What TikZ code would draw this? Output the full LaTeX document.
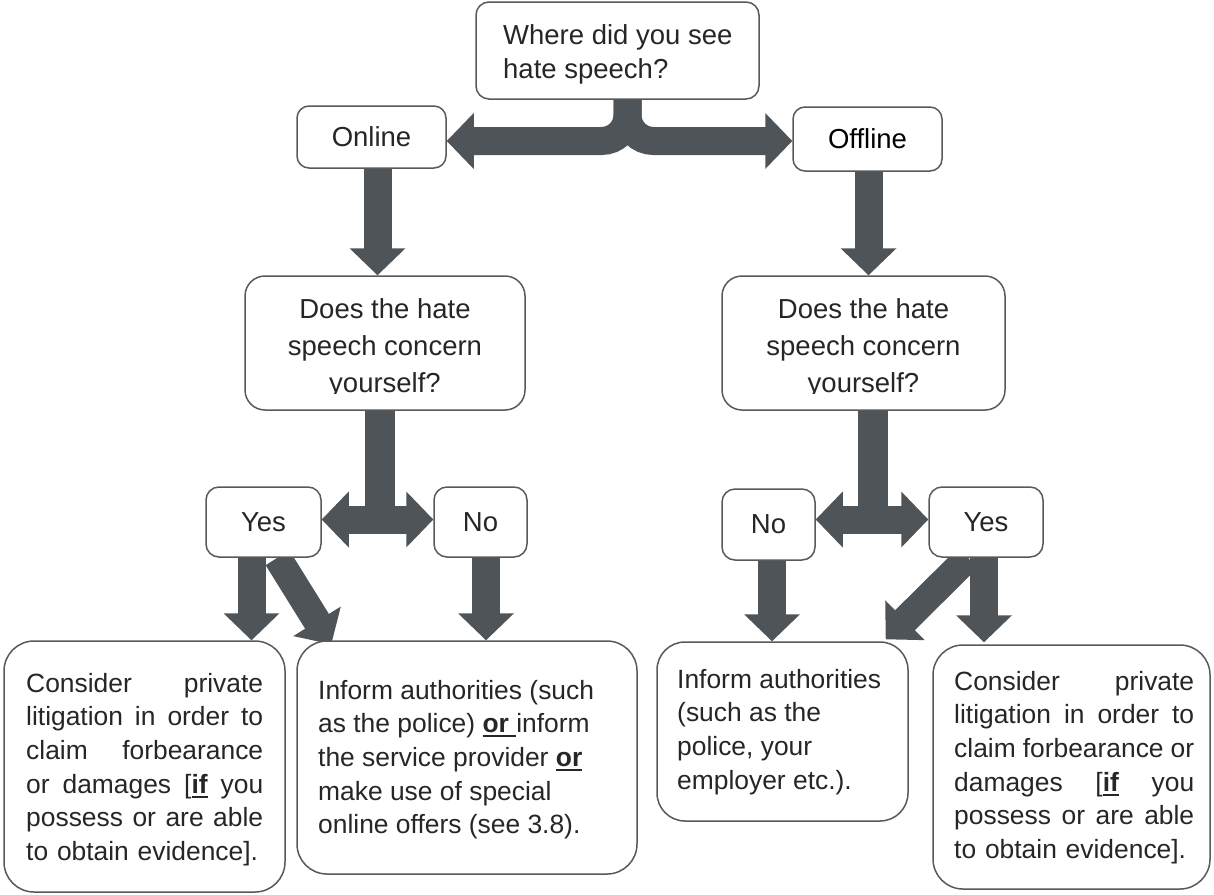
\documentclass[tikz,border=0pt]{standalone}
\usepackage{fontspec}
\setmainfont{Liberation Sans}
\usetikzlibrary{calc}
\definecolor{arrowcol}{RGB}{79,84,89}
\definecolor{boxline}{RGB}{89,89,89}
\definecolor{txt}{RGB}{38,38,38}
\pgfdeclarelayer{bg}
\pgfsetlayers{bg,main}
\newcommand{\myul}[1]{\setbox0=\hbox{#1}\rlap{\rule[-4.5pt]{\wd0}{2pt}}\box0\relax}
\newcommand{\ahead}[2]{\fill[arrowcol] (#1) -- ($(#1)!27pt!(#2)!28pt!90:(#1)$) -- ($(#1)!27pt!(#2)!28pt!-90:(#1)$) -- cycle;}
\newcommand{\barrow}[2]{\draw[shaft] (#1) -- ($(#2)!26pt!(#1)$); \ahead{#2}{#1}}
\begin{document}
\begin{tikzpicture}[x=1pt,y=-1pt,
  rbox/.style={draw=boxline, line width=1.5pt, fill=white, inner sep=0pt},
  shaft/.style={draw=arrowcol, line width=28pt},
  midtext/.style={font=\fontsize{27.5}{37}\selectfont, text=txt},
  smalltext/.style={font=\fontsize{26.4}{33.6}\selectfont, text=txt, anchor=north west, inner sep=0pt, align=left},
]
\useasboundingbox (0,0) rectangle (1214,894);

% boxes
\node[rbox, rounded corners=13pt, minimum width=283pt, minimum height=97pt] (top) at (617.5,50.5) {};
\node[rbox, rounded corners=12pt, minimum width=149pt, minimum height=62pt, midtext] (online) at (371.5,137) {Online};
\node[rbox, rounded corners=12pt, minimum width=149pt, minimum height=64pt, midtext, text=black] (offline) at (867.5,139) {Offline};
\node[rbox, rounded corners=20pt, minimum width=280pt, minimum height=134pt] (q1) at (385,343) {};
\node[rbox, rounded corners=20pt, minimum width=283pt, minimum height=134pt] (q2) at (863.5,343) {};
\node[rbox, rounded corners=13pt, minimum width=115pt, minimum height=70pt, midtext] (yes1) at (263.5,522) {Yes};
\node[rbox, rounded corners=13pt, minimum width=93pt, minimum height=70pt, midtext] (no1) at (480.5,522) {No};
\node[rbox, rounded corners=13pt, minimum width=93pt, minimum height=71pt, midtext] (no2) at (768.5,524.5) {No};
\node[rbox, rounded corners=13pt, minimum width=114pt, minimum height=70pt, midtext] (yes2) at (986,522) {Yes};
\node[rbox, rounded corners=30pt, minimum width=281pt, minimum height=251pt] (b1) at (144.5,766.5) {};
\node[rbox, rounded corners=30pt, minimum width=340pt, minimum height=233pt] (b2) at (467,757.5) {};
\node[rbox, rounded corners=28pt, minimum width=251pt, minimum height=179pt] (b3) at (782.5,731.5) {};
\node[rbox, rounded corners=30pt, minimum width=277pt, minimum height=244pt] (b4) at (1071.5,767) {};

% texts
\node[midtext, font=\fontsize{27.5}{34}\selectfont, anchor=north west, inner sep=0pt, align=left] (topt) at (503,20.2) {\strut Where did you see\\hate speech?};
\begin{scope}
  \clip (240,270) rectangle (530,393);
  \node[midtext, anchor=north, inner sep=0pt, align=center] (q1t) at (385,292.1) {\strut Does the hate\\speech concern\\yourself?};
\end{scope}
\begin{scope}
  \clip (715,270) rectangle (1010,393);
  \node[midtext, anchor=north, inner sep=0pt, align=center] (q2t) at (863.5,292.1) {\strut Does the hate\\speech concern\\yourself?};
\end{scope}
\node[smalltext, text width=237pt] (b1t) at (26,668.5) {\strut\makebox[237pt]{Consider\hfill private}\\\makebox[237pt]{litigation\hfill in\hfill order\hfill to}\\\makebox[237pt]{claim\hfill forbearance}\\\makebox[237pt]{or\hfill damages\hfill [\myul{\textbf{if}}\hfill you}\\\makebox[237pt]{possess\hfill or\hfill are\hfill able}\\to obtain evidence].};
\node[smalltext] (b2t) at (318,675.5) {\strut Inform authorities (such\\as the police) \myul{\textbf{or}\ }inform\\the service provider \myul{\textbf{or}}\\make use of special\\online offers (see 3.8).};
\node[smalltext] (b3t) at (677,664.5) {\strut Inform authorities\\(such as the\\police, your\\employer etc.).};
\node[smalltext, text width=240pt] (b4t) at (954,666.5) {\strut\makebox[240pt]{Consider\hfill private}\\\makebox[240pt]{litigation\hfill in\hfill order\hfill to}\\\makebox[240pt]{claim\hfill forbearance\hfill or}\\\makebox[240pt]{damages\hfill [\myul{\textbf{if}}\hfill you}\\\makebox[240pt]{possess\hfill or\hfill are\hfill able}\\to obtain evidence].};

% connectors
\begin{pgfonlayer}{bg}
  % split arrow
  \coordinate (s0) at ([xshift=10pt]top.south);
  \coordinate (tl) at ([yshift=-4pt]online.east);
  \coordinate (tr) at ([yshift=-2pt]offline.west);
  \coordinate (tlb) at ($(tl)+(26,0)$);
  \coordinate (trb) at ($(tr)+(-26,0)$);
  \draw[shaft, rounded corners=26pt] (s0) |- ($(tl)+(25,0)$);
  \draw[shaft, rounded corners=26pt] (s0) |- ($(tr)+(-25,0)$);
  \ahead{tl}{tlb}
  \ahead{tr}{trb}
  % online / offline down
  \coordinate (o1) at ([xshift=6pt]online.south);
  \coordinate (o1e) at (o1 |- q1.north);
  \barrow{o1}{o1e}
  \coordinate (o2) at ([xshift=1pt]offline.south);
  \coordinate (o2e) at (o2 |- q2.north);
  \barrow{o2}{o2e}
  % left T
  \coordinate (j1) at ([xshift=-5.5pt]q1.south);
  \coordinate (j1b) at ($(j1)+(0,123.5)$);
  \draw[arrowcol, line width=30pt] (j1) -- (j1b);
  \coordinate (y1t) at ([yshift=2.5pt]yes1.east);
  \coordinate (n1t) at ([yshift=2.5pt]no1.west);
  \coordinate (j1m) at (j1 |- y1t);
  \barrow{j1m}{y1t}
  \barrow{j1m}{n1t}
  % right T
  \coordinate (j2) at ([xshift=9.5pt]q2.south);
  \coordinate (j2b) at ($(j2)+(0,123.5)$);
  \draw[arrowcol, line width=30pt] (j2) -- (j2b);
  \coordinate (n2t) at ([yshift=5pt]no2.east);
  \coordinate (y2t) at ([yshift=2.5pt]yes2.west);
  \coordinate (j2m) at (j2 |- y2t);
  \barrow{j2m}{n2t}
  \barrow{j2m}{y2t}
  % down to result boxes
  \coordinate (y1a) at ([xshift=-12pt]yes1.south);
  \coordinate (y1ae) at (y1a |- b1.north);
  \barrow{y1a}{y1ae}
  \coordinate (y1b) at ([xshift=14pt]yes1.south);
  \coordinate (y1be) at ($(b2.north west)+(35,4)$);
  \barrow{y1b}{y1be}
  \coordinate (n1a) at ([xshift=5.5pt]no1.south);
  \coordinate (n1ae) at (n1a |- b2.north);
  \barrow{n1a}{n1ae}
  \coordinate (n2a) at ([xshift=3.5pt]no2.south);
  \coordinate (n2ae) at (n2a |- b3.north);
  \barrow{n2a}{n2ae}
  \coordinate (y2a) at ([xshift=-2pt]yes2.south);
  \coordinate (y2ae) at ($(y2a |- b4.north)+(0,-2)$);
  \barrow{y2a}{y2ae}
  \coordinate (y2b) at ([xshift=-18pt]yes2.south);
  \coordinate (y2be) at ($(b3.north east)+(-23,-2)$);
  \barrow{y2b}{y2be}
\end{pgfonlayer}
\end{tikzpicture}
\end{document}
